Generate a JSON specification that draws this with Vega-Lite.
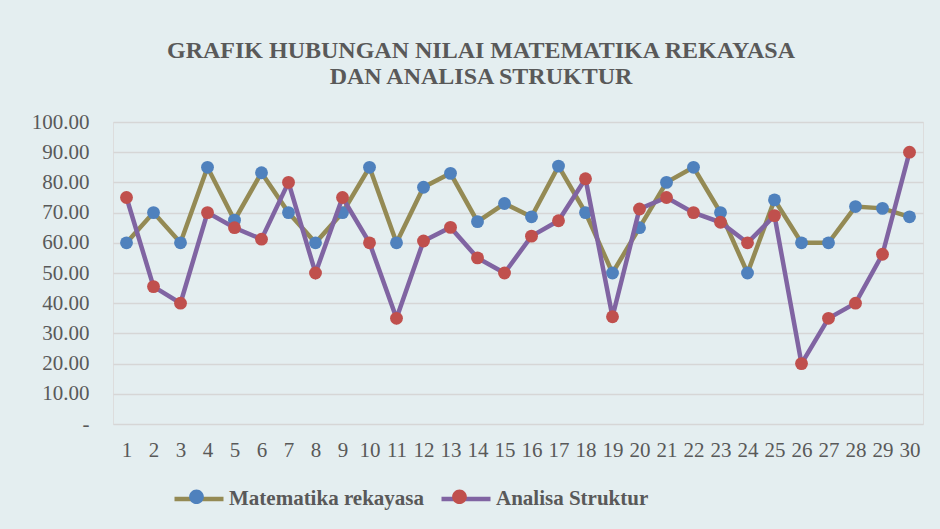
{
  "$schema": "https://vega.github.io/schema/vega-lite/v6.json",
  "width": 810,
  "height": 302,
  "autosize": {"type": "none"},
  "padding": {"left": 113, "top": 122, "right": 17, "bottom": 105},
  "background": "#e4eef0",
  "title": {
    "text": ["GRAFIK HUBUNGAN NILAI MATEMATIKA REKAYASA", "DAN ANALISA STRUKTUR"],
    "font": "Liberation Serif",
    "fontSize": 24,
    "fontWeight": "bold",
    "color": "#595959",
    "lineHeight": 26.5,
    "anchor": "middle",
    "offset": 22,
    "dx": -37
  },
  "data": {
    "values": [
      {"no": 1, "series": "Matematika rekayasa", "nilai": 60},
      {"no": 2, "series": "Matematika rekayasa", "nilai": 70},
      {"no": 3, "series": "Matematika rekayasa", "nilai": 60},
      {"no": 4, "series": "Matematika rekayasa", "nilai": 85},
      {"no": 5, "series": "Matematika rekayasa", "nilai": 67.5},
      {"no": 6, "series": "Matematika rekayasa", "nilai": 83.2},
      {"no": 7, "series": "Matematika rekayasa", "nilai": 70},
      {"no": 8, "series": "Matematika rekayasa", "nilai": 60},
      {"no": 9, "series": "Matematika rekayasa", "nilai": 70},
      {"no": 10, "series": "Matematika rekayasa", "nilai": 85},
      {"no": 11, "series": "Matematika rekayasa", "nilai": 60},
      {"no": 12, "series": "Matematika rekayasa", "nilai": 78.4},
      {"no": 13, "series": "Matematika rekayasa", "nilai": 83},
      {"no": 14, "series": "Matematika rekayasa", "nilai": 67},
      {"no": 15, "series": "Matematika rekayasa", "nilai": 73},
      {"no": 16, "series": "Matematika rekayasa", "nilai": 68.6},
      {"no": 17, "series": "Matematika rekayasa", "nilai": 85.4},
      {"no": 18, "series": "Matematika rekayasa", "nilai": 70},
      {"no": 19, "series": "Matematika rekayasa", "nilai": 50},
      {"no": 20, "series": "Matematika rekayasa", "nilai": 65},
      {"no": 21, "series": "Matematika rekayasa", "nilai": 80},
      {"no": 22, "series": "Matematika rekayasa", "nilai": 85},
      {"no": 23, "series": "Matematika rekayasa", "nilai": 70},
      {"no": 24, "series": "Matematika rekayasa", "nilai": 50},
      {"no": 25, "series": "Matematika rekayasa", "nilai": 74.2},
      {"no": 26, "series": "Matematika rekayasa", "nilai": 60},
      {"no": 27, "series": "Matematika rekayasa", "nilai": 60},
      {"no": 28, "series": "Matematika rekayasa", "nilai": 72},
      {"no": 29, "series": "Matematika rekayasa", "nilai": 71.4},
      {"no": 30, "series": "Matematika rekayasa", "nilai": 68.6},
      {"no": 1, "series": "Analisa Struktur", "nilai": 75},
      {"no": 2, "series": "Analisa Struktur", "nilai": 45.5},
      {"no": 3, "series": "Analisa Struktur", "nilai": 40},
      {"no": 4, "series": "Analisa Struktur", "nilai": 70},
      {"no": 5, "series": "Analisa Struktur", "nilai": 65},
      {"no": 6, "series": "Analisa Struktur", "nilai": 61.2},
      {"no": 7, "series": "Analisa Struktur", "nilai": 80},
      {"no": 8, "series": "Analisa Struktur", "nilai": 50},
      {"no": 9, "series": "Analisa Struktur", "nilai": 75},
      {"no": 10, "series": "Analisa Struktur", "nilai": 60},
      {"no": 11, "series": "Analisa Struktur", "nilai": 35},
      {"no": 12, "series": "Analisa Struktur", "nilai": 60.6},
      {"no": 13, "series": "Analisa Struktur", "nilai": 65.1},
      {"no": 14, "series": "Analisa Struktur", "nilai": 55},
      {"no": 15, "series": "Analisa Struktur", "nilai": 50},
      {"no": 16, "series": "Analisa Struktur", "nilai": 62.2},
      {"no": 17, "series": "Analisa Struktur", "nilai": 67.3},
      {"no": 18, "series": "Analisa Struktur", "nilai": 81.2},
      {"no": 19, "series": "Analisa Struktur", "nilai": 35.5},
      {"no": 20, "series": "Analisa Struktur", "nilai": 71.2},
      {"no": 21, "series": "Analisa Struktur", "nilai": 75},
      {"no": 22, "series": "Analisa Struktur", "nilai": 70},
      {"no": 23, "series": "Analisa Struktur", "nilai": 66.8},
      {"no": 24, "series": "Analisa Struktur", "nilai": 60},
      {"no": 25, "series": "Analisa Struktur", "nilai": 69},
      {"no": 26, "series": "Analisa Struktur", "nilai": 20},
      {"no": 27, "series": "Analisa Struktur", "nilai": 35},
      {"no": 28, "series": "Analisa Struktur", "nilai": 40},
      {"no": 29, "series": "Analisa Struktur", "nilai": 56.2},
      {"no": 30, "series": "Analisa Struktur", "nilai": 90}
    ]
  },
  "encoding": {
    "x": {
      "field": "no",
      "type": "ordinal",
      "scale": {"type": "point", "padding": 0.5},
      "axis": {
        "title": null,
        "labelAngle": 0,
        "ticks": false,
        "domain": false,
        "grid": false,
        "labelFont": "Liberation Serif",
        "labelFontSize": 21,
        "labelColor": "#595959",
        "labelPadding": 15
      }
    },
    "y": {
      "field": "nilai",
      "type": "quantitative",
      "scale": {"domain": [0, 100], "nice": false},
      "axis": {
        "title": null,
        "values": [0, 10, 20, 30, 40, 50, 60, 70, 80, 90, 100],
        "labelExpr": "datum.value == 0 ? '-' : format(datum.value, '.2f')",
        "ticks": false,
        "domain": false,
        "grid": true,
        "gridColor": "#d6d6d6",
        "gridWidth": 1.5,
        "labelFont": "Liberation Serif",
        "labelFontSize": 21,
        "labelColor": "#595959",
        "labelPadding": 24
      }
    }
  },
  "layer": [
    {
      "transform": [{"filter": "datum.series == 'Matematika rekayasa'"}],
      "mark": {"type": "line", "strokeWidth": 4.5},
      "encoding": {
        "stroke": {
          "field": "series",
          "type": "nominal",
          "sort": null,
          "scale": {"domain": ["Matematika rekayasa", "Analisa Struktur"], "range": ["#948A54", "#8064A2"]},
          "legend": {
            "orient": "none",
            "legendX": 59,
            "legendY": 350,
            "direction": "horizontal",
            "title": null,
            "symbolType": "stroke",
            "symbolSize": 2400,
            "symbolStrokeWidth": 4.5,
            "labelOffset": 3,
            "columnPadding": 8,
            "padding": 0,
            "labelFont": "Liberation Serif",
            "labelFontSize": 21,
            "labelFontWeight": "bold",
            "labelColor": "#595959",
            "labelLimit": 400
          }
        }
      }
    },
    {
      "transform": [{"filter": "datum.series == 'Matematika rekayasa'"}],
      "mark": {"type": "point", "filled": true, "shape": "circle", "size": 165, "opacity": 1},
      "encoding": {
        "fill": {
          "field": "series",
          "type": "nominal",
          "sort": null,
          "scale": {"domain": ["Matematika rekayasa", "Analisa Struktur", "_"], "range": ["#4F81BD", "#C0504D", "#ffffff"]},
          "legend": {
            "orient": "none",
            "legendX": 59,
            "legendY": 350,
            "direction": "horizontal",
            "values": ["Matematika rekayasa", "Analisa Struktur"],
            "title": null,
            "symbolType": "M-1,0L1,0M-0.3,0A0.3,0.3,0,1,0,0.3,0A0.3,0.3,0,1,0,-0.3,0Z",
            "symbolSize": 2400,
            "symbolStrokeWidth": 0,
            "symbolOpacity": 1,
            "labelExpr": "''",
            "labelOffset": 3,
            "columnPadding": 211,
            "padding": 0,
            "labelFont": "Liberation Serif",
            "labelFontSize": 21,
            "labelLimit": 400
          }
        }
      }
    },
    {
      "transform": [{"filter": "datum.series == 'Analisa Struktur'"}],
      "mark": {"type": "line", "strokeWidth": 4.5},
      "encoding": {
        "stroke": {"field": "series", "type": "nominal", "sort": null}
      }
    },
    {
      "transform": [{"filter": "datum.series == 'Analisa Struktur'"}],
      "mark": {"type": "point", "filled": true, "shape": "circle", "size": 165, "opacity": 1},
      "encoding": {
        "fill": {"field": "series", "type": "nominal", "sort": null}
      }
    }
  ]
}
